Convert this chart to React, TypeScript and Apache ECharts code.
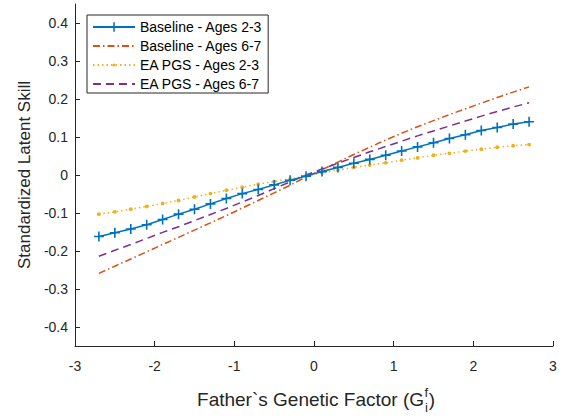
import React, { useEffect, useRef } from "react";
import * as echarts from "echarts";

const xValues = [
  -2.7, -2.5, -2.3, -2.1, -1.9, -1.7, -1.5, -1.3, -1.1, -0.9, -0.7, -0.5, -0.3, -0.1,
  0.1, 0.3, 0.5, 0.7, 0.9, 1.1, 1.3, 1.5, 1.7, 1.9, 2.1, 2.3, 2.5, 2.7,
];
const baseline23 = [
  -0.162, -0.152, -0.142, -0.131, -0.117, -0.103, -0.09, -0.076, -0.062, -0.049, -0.038, -0.026, -0.014, -0.003,
  0.009, 0.02, 0.031, 0.041, 0.052, 0.063, 0.074, 0.085, 0.096, 0.106, 0.117, 0.125, 0.134, 0.14,
];
const baseline67 = [
  -0.259, -0.24, -0.221, -0.202, -0.183, -0.164, -0.145, -0.126, -0.107, -0.087, -0.067, -0.047, -0.027, -0.005,
  0.014, 0.034, 0.054, 0.073, 0.092, 0.11, 0.127, 0.143, 0.159, 0.174, 0.189, 0.204, 0.218, 0.232,
];
const pgs23 = [
  -0.103, -0.097, -0.09, -0.083, -0.075, -0.067, -0.058, -0.049, -0.04, -0.032, -0.024, -0.017, -0.01, -0.003,
  0.006, 0.013, 0.02, 0.026, 0.032, 0.039, 0.045, 0.052, 0.057, 0.063, 0.068, 0.073, 0.077, 0.08,
];
const pgs67 = [
  -0.214, -0.198, -0.183, -0.167, -0.151, -0.136, -0.12, -0.104, -0.088, -0.071, -0.054, -0.036, -0.018, 0.0,
  0.016, 0.031, 0.046, 0.061, 0.075, 0.089, 0.103, 0.116, 0.129, 0.142, 0.155, 0.167, 0.179, 0.19,
];
const seriesNames = [
  "Baseline - Ages 2-3",
  "Baseline - Ages 6-7",
  "EA PGS - Ages 2-3",
  "EA PGS - Ages 6-7",
];
const yTicks = [-0.4, -0.3, -0.2, -0.1, 0, 0.1, 0.2, 0.3, 0.4];

const FONT = "'Liberation Sans', Arial, Helvetica, sans-serif";
const AX = "#262626";

const PLUS = "path://M4.2,0H5.8V4.2H10V5.8H5.8V10H4.2V5.8H0V4.2H4.2Z";
const DOT = "path://M0,0M10,10M3.4,5A1.6,1.6 0 1,0 6.6,5A1.6,1.6 0 1,0 3.4,5Z";

function pairs(ys: number[]) {
  return xValues.map((x, i) => [x, ys[i]]);
}

export default function App() {
  const ref = useRef<HTMLDivElement>(null);
  useEffect(() => {
    if (!ref.current) return;
    const chart = echarts.init(ref.current, null, { renderer: "svg" });

    // x-axis label with stacked super/subscript
    const cv = document.createElement("canvas").getContext("2d")!;
    const mainSize = 19;
    const smallSize = 13;
    const mainText = "Father`s Genetic Factor (G";
    cv.font = `${mainSize}px 'Liberation Sans'`;
    const wMain = cv.measureText(mainText).width;
    const wClose = cv.measureText(")").width;
    cv.font = `${smallSize}px 'Liberation Sans'`;
    const wF = cv.measureText("f").width;
    const total = wMain + wF + 1 + wClose;
    const cx = 316;
    const cy = 399;
    const left = cx - total / 2;

    chart.setOption({
      animation: false,
      backgroundColor: "#fff",
      textStyle: { fontFamily: FONT },
      grid: { left: 75, right: 11, top: 4, bottom: 74, containLabel: false },
      xAxis: {
        type: "value",
        min: -3,
        max: 3,
        interval: 1,
        axisLine: { show: true, onZero: false, lineStyle: { color: AX, width: 1 } },
        axisTick: { show: true, inside: true, length: 5, lineStyle: { color: AX } },
        axisLabel: { fontSize: 14, color: AX, margin: 13, fontFamily: FONT },
        splitLine: { show: false },
      },
      yAxis: {
        type: "value",
        min: -0.45,
        max: 0.45,
        name: "Standardized Latent Skill",
        nameLocation: "middle",
        nameGap: 37,
        nameTextStyle: { fontSize: 17, color: AX, fontFamily: FONT },
        axisLine: { show: true, onZero: false, lineStyle: { color: AX, width: 1 } },
        axisTick: { show: true, inside: true, length: 5, customValues: yTicks, lineStyle: { color: AX } },
        axisLabel: {
          fontSize: 14,
          color: AX,
          margin: 7,
          fontFamily: FONT,
          customValues: yTicks,
          formatter: (v: number) => (Math.abs(v) < 1e-9 ? "0" : v.toFixed(1)),
        },
        splitLine: { show: false },
      },
      legend: {
        orient: "vertical",
        left: 87,
        top: 15,
        itemWidth: 42,
        itemHeight: 12,
        itemGap: 5,
        padding: [5, 6, 2, 5],
        borderColor: AX,
        borderWidth: 1,
        borderRadius: 0,
        backgroundColor: "#fff",
        textStyle: { fontSize: 14, color: "#000", fontFamily: FONT },
        data: seriesNames,
      },
      series: [
        {
          name: seriesNames[0],
          type: "line",
          data: pairs(baseline23),
          symbol: PLUS,
          symbolSize: 10,
          showSymbol: true,
          itemStyle: { color: "#0072BD" },
          lineStyle: { color: "#0072BD", width: 1.5 },
          z: 5,
        },
        {
          name: seriesNames[1],
          type: "line",
          data: pairs(baseline67),
          symbol: "circle",
          symbolSize: 0,
          showSymbol: false,
          itemStyle: { color: "#D95319", opacity: 0 },
          lineStyle: { color: "#D95319", width: 1.5, opacity: 1, type: [7, 3, 1.5, 3] },
        },
        {
          name: seriesNames[2],
          type: "line",
          data: pairs(pgs23),
          symbol: DOT,
          symbolSize: 12,
          showSymbol: true,
          itemStyle: { color: "#EDB120" },
          lineStyle: { color: "#EDB120", width: 1.5, type: [1.5, 3] },
        },
        {
          name: seriesNames[3],
          type: "line",
          data: pairs(pgs67),
          symbol: "circle",
          symbolSize: 0,
          showSymbol: false,
          itemStyle: { color: "#7E2F8E", opacity: 0 },
          lineStyle: { color: "#7E2F8E", width: 1.5, opacity: 1, type: [8, 5] },
        },
      ],
      graphic: [
        {
          type: "text",
          x: left,
          y: cy,
          style: {
            text: mainText,
            fontSize: mainSize,
            fontFamily: FONT,
            fill: AX,
            textAlign: "left",
            verticalAlign: "middle",
          },
        },
        {
          type: "text",
          x: left + wMain + 0.5,
          y: cy - 7,
          style: {
            text: "f",
            fontSize: smallSize,
            fontFamily: FONT,
            fill: AX,
            textAlign: "left",
            verticalAlign: "middle",
          },
        },
        {
          type: "text",
          x: left + wMain + 1,
          y: cy + 8,
          style: {
            text: "i",
            fontSize: smallSize,
            fontFamily: FONT,
            fill: AX,
            textAlign: "left",
            verticalAlign: "middle",
          },
        },
        {
          type: "text",
          x: left + wMain + wF + 1,
          y: cy,
          style: {
            text: ")",
            fontSize: mainSize,
            fontFamily: FONT,
            fill: AX,
            textAlign: "left",
            verticalAlign: "middle",
          },
        },
      ],
    });
    return () => chart.dispose();
  }, []);
  return (
    <div
      ref={ref}
      style={{ position: "fixed", left: 0, top: 0, width: 564, height: 420, background: "#fff" }}
    />
  );
}
